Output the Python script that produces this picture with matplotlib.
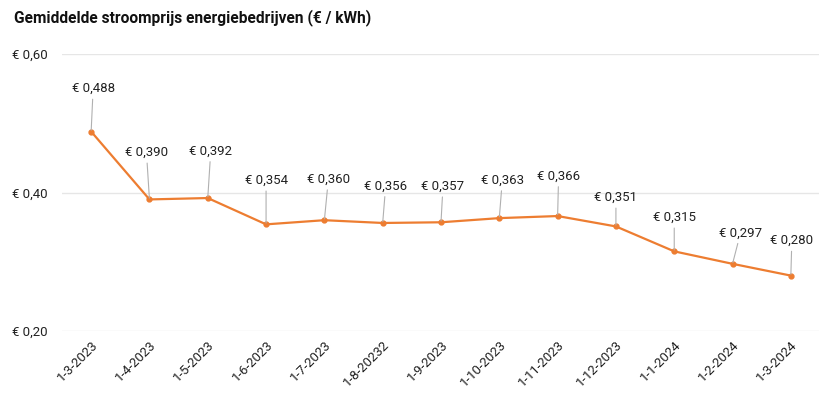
import matplotlib.pyplot as plt

plt.rcParams['font.family'] = ['Roboto', 'DejaVu Sans']

# Gemiddelde stroomprijs per maand
dates = ['1-3-2023', '1-4-2023', '1-5-2023', '1-6-2023', '1-7-2023', '1-8-20232',
         '1-9-2023', '1-10-2023', '1-11-2023', '1-12-2023', '1-1-2024', '1-2-2024',
         '1-3-2024']
prices = [0.488, 0.390, 0.392, 0.354, 0.360, 0.356, 0.357, 0.363, 0.366,
          0.351, 0.315, 0.297, 0.280]

# label offsets in pixels (dx, dy)
label_dx = [2, -3, 3, 0, 4, 3, 2, 3, 1, 0, 0, 8, 1]
label_dy = [43, 47, 47, 44, 41, 37, 36, 38, 40, 29, 34, 31, 35]

orange = '#ED7D31'

fig = plt.figure(figsize=(8.2, 4.0), dpi=100)
ax = fig.add_axes([0.0756, 0.1725, 0.9244, 0.6925])

x = list(range(len(dates)))
ax.plot(x, prices, color=orange, linewidth=1.6, marker='o', markersize=3.5, zorder=3)

for i, p in enumerate(prices):
    lbl = '€ ' + f'{p:.3f}'.replace('.', ',')
    ax.annotate(lbl, xy=(i, p), xytext=(label_dx[i], label_dy[i]),
                textcoords='offset pixels', ha='center', va='center',
                fontsize=9.5, color='#222222',
                arrowprops=dict(arrowstyle='-', color='#b0b0b0', lw=0.8,
                                shrinkA=1, shrinkB=1))

ax.set_xlim(-0.5, len(dates) - 0.5)
ax.set_ylim(0.2, 0.6)
ax.set_yticks([0.2, 0.4, 0.6])
ax.set_yticklabels(['€ 0,20', '€ 0,40', '€ 0,60'])
ax.set_xticks(x)
ax.set_xticklabels(dates, rotation=45, ha='right', rotation_mode='anchor')

ax.grid(axis='y', color='#e6e6e6', linewidth=1)
ax.set_axisbelow(True)
for s in ax.spines.values():
    s.set_visible(False)
ax.tick_params(axis='both', length=0, labelsize=9.5, colors='#222222')
ax.tick_params(axis='y', pad=10)
ax.tick_params(axis='x', pad=5)

fig.text(0.017, 0.957, 'Gemiddelde stroomprijs energiebedrijven (€ / kWh)',
         fontsize=11.2, fontweight='bold', ha='left', va='center', color='#111111')

fig.savefig('out.png', dpi=100)
